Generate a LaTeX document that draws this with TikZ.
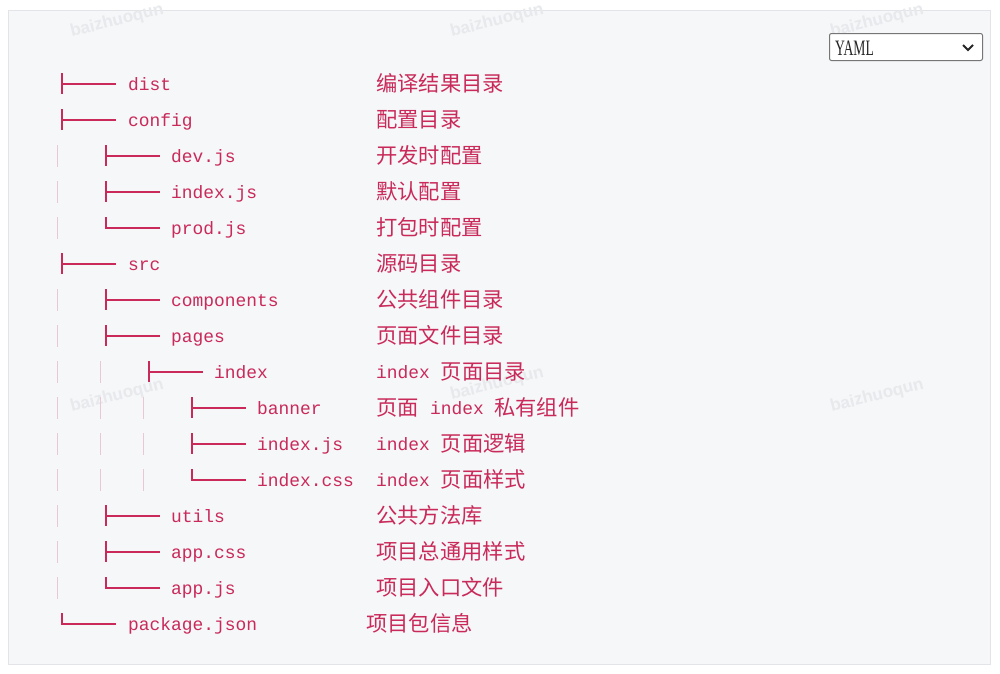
\documentclass[tikz,border=0pt]{standalone}
\usepackage{fontspec}
\setmainfont{Liberation Serif}
\newfontfamily\monof{Liberation Mono}
\newfontfamily\cjkf{Noto Sans CJK SC}
\newfontfamily\wmf{Liberation Sans}
\definecolor{code}{HTML}{C92A5A}
\definecolor{pipec}{HTML}{EBC6D3}
\definecolor{panel}{HTML}{F6F7F9}
\definecolor{panelb}{HTML}{E2E4E8}
\definecolor{wm}{HTML}{E7E9EC}
\definecolor{ddb}{HTML}{767676}
\newcommand\teeg[2]{\draw[glyph] (#1,#2-11) -- (#1,#2+10); \draw[glyph] (#1,#2) -- (#1+54,#2);}
\newcommand\elbg[2]{\draw[glyph] (#1,#2-11) -- (#1,#2) -- (#1+54,#2);}
\newcommand\pipeg[2]{\draw[pipe] (#1,#2-11) -- (#1,#2+11);}
\begin{document}
\begin{tikzpicture}[x=1pt,y=-1pt,
 lat/.style={anchor=base west, inner sep=0pt, text=code, font=\monof\fontsize{17.9}{20}\selectfont},
 zh/.style={anchor=base west, inner sep=0pt, text=code, font=\cjkf\fontsize{21.3}{24}\selectfont},
 glyph/.style={draw=code, line width=1.7pt, line join=miter},
 pipe/.style={draw=pipec, line width=1pt},
 wmark/.style={text=wm, inner sep=0pt, font=\wmf\bfseries\fontsize{17}{20}\selectfont, rotate=14}]
\useasboundingbox (0,0) rectangle (1000,673);
\fill[white] (0,0) rectangle (1000,673);
\draw[panelb, fill=panel, line width=1pt] (8,10) rectangle (990,664);
% watermarks
\node[wmark] (w1) at (117,21) {baizhuoqun};
\node[wmark] (w2) at (497,21) {baizhuoqun};
\node[wmark] (w3) at (877,21) {baizhuoqun};
\node[wmark] (w4) at (117,396) {baizhuoqun};
\node[wmark] (w5) at (497,384) {baizhuoqun};
\node[wmark] (w6) at (877,396) {baizhuoqun};
% dropdown
\node[draw=ddb, fill=white, rounded corners=2pt, minimum width=153pt, minimum height=27pt, anchor=north west, inner sep=0pt, line width=1pt] (dd) at (829,33) {};
\node[anchor=base west, inner sep=0pt, text=black!85, font=\fontsize{22}{24}\selectfont] (ddt) at (835,55) {\scalebox{0.62}[1]{YAML}};
\draw[line width=1.8pt, black!85] ([shift={(-20,-2)}]dd.east) -- ([shift={(-15,3)}]dd.east) -- ([shift={(-10,-2)}]dd.east);
% row 1
\teeg{62}{84}
\node[lat] (n1) at (128,90) {dist};
\node[zh] (c1) at (376,91.5) {编译结果目录};
% row 2
\teeg{62}{120}
\node[lat] (n2) at (128,126) {config};
\node[zh] (c2) at (376,127.5) {配置目录};
% row 3
\pipeg{57}{156}\teeg{106}{156}
\node[lat] (n3) at (171,162) {dev.js};
\node[zh] (c3) at (376,163.5) {开发时配置};
% row 4
\pipeg{57}{192}\teeg{106}{192}
\node[lat] (n4) at (171,198) {index.js};
\node[zh] (c4) at (376,199.5) {默认配置};
% row 5
\pipeg{57}{228}\elbg{106}{228}
\node[lat] (n5) at (171,234) {prod.js};
\node[zh] (c5) at (376,235.5) {打包时配置};
% row 6
\teeg{62}{264}
\node[lat] (n6) at (128,270) {src};
\node[zh] (c6) at (376,271.5) {源码目录};
% row 7
\pipeg{57}{300}\teeg{106}{300}
\node[lat] (n7) at (171,306) {components};
\node[zh] (c7) at (376,307.5) {公共组件目录};
% row 8
\pipeg{57}{336}\teeg{106}{336}
\node[lat] (n8) at (171,342) {pages};
\node[zh] (c8) at (376,343.5) {页面文件目录};
% row 9
\pipeg{57}{372}\pipeg{100}{372}\teeg{149}{372}
\node[lat] (n9) at (214,378) {index};
\node[lat] (c9a) at (376,378) {index};
\node[zh] (c9b) at (440.5,379.5) {页面目录};
% row 10
\pipeg{57}{408}\pipeg{100}{408}\pipeg{143}{408}\teeg{192}{408}
\node[lat] (n10) at (257,414) {banner};
\node[zh] (c10a) at (376,415.5) {页面};
\node[lat] (c10b) at (430,414) {index};
\node[zh] (c10c) at (494,415.5) {私有组件};
% row 11
\pipeg{57}{444}\pipeg{100}{444}\pipeg{143}{444}\teeg{192}{444}
\node[lat] (n11) at (257,450) {index.js};
\node[lat] (c11a) at (376,450) {index};
\node[zh] (c11b) at (440.5,451.5) {页面逻辑};
% row 12
\pipeg{57}{480}\pipeg{100}{480}\pipeg{143}{480}\elbg{192}{480}
\node[lat] (n12) at (257,486) {index.css};
\node[lat] (c12a) at (376,486) {index};
\node[zh] (c12b) at (440.5,487.5) {页面样式};
% row 13
\pipeg{57}{516}\teeg{106}{516}
\node[lat] (n13) at (171,522) {utils};
\node[zh] (c13) at (376,523.5) {公共方法库};
% row 14
\pipeg{57}{552}\teeg{106}{552}
\node[lat] (n14) at (171,558) {app.css};
\node[zh] (c14) at (376,559.5) {项目总通用样式};
% row 15
\pipeg{57}{588}\elbg{106}{588}
\node[lat] (n15) at (171,594) {app.js};
\node[zh] (c15) at (376,595.5) {项目入口文件};
% row 16
\elbg{62}{624}
\node[lat] (n16) at (128,630) {package.json};
\node[zh] (c16) at (366,631.5) {项目包信息};
\end{tikzpicture}
\end{document}
